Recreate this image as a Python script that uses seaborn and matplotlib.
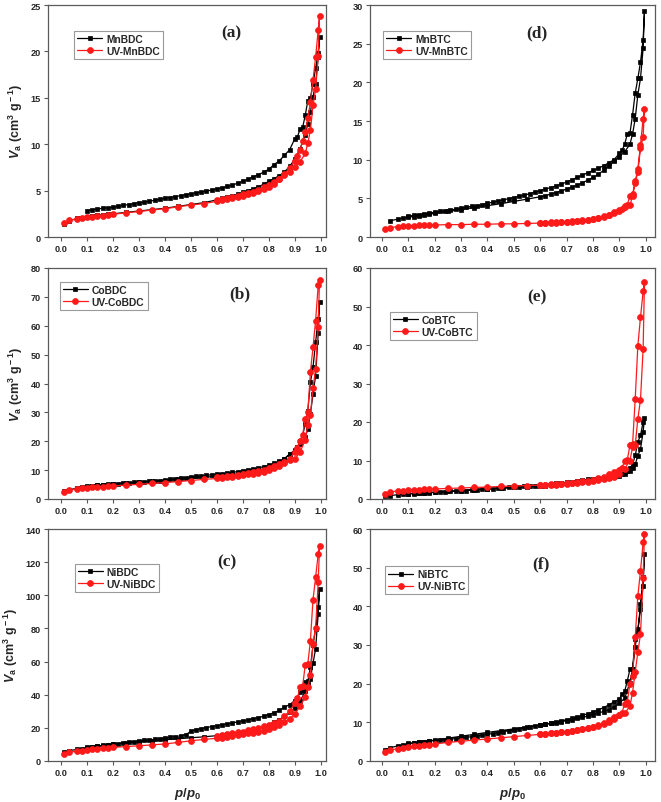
import matplotlib
matplotlib.use("Agg")
import matplotlib.pyplot as plt
import seaborn as sns

# relative pressure grids (adsorption up, desorption back down)
ads_p = [0.01, 0.03, 0.06, 0.08, 0.10, 0.12, 0.14, 0.16, 0.18, 0.20,
         0.25, 0.30, 0.35, 0.40, 0.45, 0.50, 0.55, 0.60,
         0.62, 0.64, 0.66, 0.68, 0.70, 0.72, 0.74, 0.76, 0.78, 0.80, 0.82, 0.84, 0.86, 0.88, 0.90,
         0.92, 0.94, 0.95, 0.96, 0.97, 0.98, 0.99, 0.995]
des_p_long = [0.99, 0.98, 0.97, 0.96, 0.95, 0.94, 0.93, 0.92, 0.91, 0.90,
              0.88, 0.86, 0.84, 0.82, 0.80, 0.78, 0.76, 0.74, 0.72, 0.70,
              0.68, 0.66, 0.64, 0.62, 0.60, 0.58, 0.56, 0.54, 0.52, 0.50,
              0.48, 0.46, 0.44, 0.42, 0.40, 0.38, 0.36, 0.34, 0.32, 0.30,
              0.28, 0.26, 0.24, 0.22, 0.20, 0.18, 0.16, 0.14, 0.12, 0.10]
des_p_short = [0.99, 0.98, 0.97, 0.96, 0.95, 0.94, 0.93, 0.92, 0.91, 0.90,
               0.88, 0.86, 0.84, 0.82, 0.80, 0.78, 0.76, 0.74, 0.72, 0.70,
               0.68, 0.66, 0.64, 0.62, 0.60]
mnbtc_p = [0.03, 0.06, 0.08, 0.10, 0.12, 0.14, 0.16, 0.18, 0.20,
           0.25, 0.30, 0.35, 0.40, 0.45, 0.50, 0.55, 0.60,
           0.62, 0.64, 0.66, 0.68, 0.70, 0.72, 0.74, 0.76, 0.78, 0.80, 0.82, 0.84, 0.86, 0.88, 0.90,
           0.92, 0.94, 0.95, 0.96, 0.97, 0.98, 0.99, 0.995]

# (a) MnBDC
mnbdc_ads = [1.35, 1.7, 2.0, 2.1, 2.2, 2.3, 2.35, 2.4, 2.45, 2.5,
             2.65, 2.8, 2.95, 3.1, 3.3, 3.5, 3.7, 4.0,
             4.15, 4.3, 4.45, 4.6, 4.8, 5.0, 5.2, 5.4, 5.7, 6.0, 6.3, 6.6, 7.0, 7.6, 8.4,
             9.5, 11.0, 12.2, 13.5, 15.1, 16.5, 19.4, 21.6]
mnbdc_des = [19.8, 18.2, 16.5, 15.0, 14.7, 13.1, 11.8, 11.6, 10.8, 10.6,
             9.4, 8.8, 8.2, 7.8, 7.3, 7.0, 6.7, 6.5, 6.2, 6.0,
             5.8, 5.6, 5.45, 5.3, 5.2, 5.05, 4.95, 4.85, 4.75, 4.65,
             4.55, 4.45, 4.35, 4.25, 4.15, 4.05, 3.95, 3.85, 3.75, 3.7,
             3.6, 3.5, 3.4, 3.3, 3.2, 3.15, 3.1, 3.0, 2.95, 2.85]
uv_mnbdc_ads = [1.5, 1.8, 1.95, 2.05, 2.15, 2.2, 2.25, 2.3, 2.4, 2.45,
                2.6, 2.75, 2.9, 3.05, 3.25, 3.45, 3.6, 3.85,
                3.95, 4.05, 4.2, 4.3, 4.45, 4.6, 4.75, 4.95, 5.15, 5.4, 5.75, 6.2, 6.7, 7.0, 7.5,
                8.1, 9.0, 10.1, 11.5, 14.2, 15.9, 19.5, 23.8]
uv_mnbdc_des = [22.3, 19.4, 16.9, 14.5, 12.8, 11.3, 10.3, 9.4, 8.7, 8.2,
                7.4, 6.8, 6.3, 5.9, 5.6, 5.35, 5.1, 4.9, 4.75, 4.6, 4.45, 4.3, 4.15, 4.05, 3.95]

# (b) CoBDC
cobdc_ads = [2.6, 3.2, 3.7, 4.0, 4.3, 4.5, 4.7, 4.9, 5.0, 5.2,
             5.5, 5.8, 6.1, 6.4, 6.8, 7.1, 7.5, 7.9,
             8.1, 8.3, 8.5, 8.7, 9.0, 9.3, 9.6, 10.0, 10.5, 11.0, 11.8, 12.7, 13.9, 15.5, 16.5,
             19.0, 21.5, 24.2, 29.4, 36.4, 42.7, 57.5, 68.2]
cobdc_des = [62.4, 54.3, 45.6, 40.4, 30.6, 26.0, 22.0, 20.2, 18.0, 17.0,
             15.5, 14.0, 13.0, 12.3, 11.7, 11.2, 10.8, 10.4, 10.1, 9.8,
             9.5, 9.2, 9.0, 8.8, 8.6, 8.4, 8.2, 8.0, 7.8, 7.6,
             7.4, 7.2, 7.0, 6.8, 6.6, 6.4, 6.3, 6.15, 6.0, 5.9,
             5.75, 5.6, 5.5, 5.35, 5.2, 5.1, 4.95, 4.8, 4.6, 4.4]
uv_cobdc_ads = [2.4, 3.0, 3.5, 3.7, 3.9, 4.0, 4.1, 4.3, 4.4, 4.5,
                4.8, 5.1, 5.4, 5.7, 6.0, 6.4, 6.8, 7.1,
                7.3, 7.5, 7.7, 7.9, 8.2, 8.5, 8.8, 9.1, 9.5, 10.0, 10.8, 11.6, 12.4, 13.5, 13.8,
                16.2, 20.4, 25.7, 29.0, 38.5, 45.0, 59.6, 75.8]
uv_cobdc_des = [74.0, 61.8, 52.5, 44.0, 30.0, 27.7, 22.0, 20.2, 17.5, 16.3,
                14.0, 12.8, 12.0, 11.3, 10.6, 10.1, 9.7, 9.3, 9.0, 8.7, 8.4, 8.1, 7.9, 7.7, 7.5]

# (c) NiBDC
nibdc_ads = [5.5, 6.2, 7.0, 7.5, 8.0, 8.4, 8.8, 9.2, 9.6, 10.0,
             10.9, 11.6, 12.2, 12.8, 13.4, 14.0, 14.6, 15.3,
             15.6, 16.0, 16.4, 16.9, 17.4, 18.0, 18.7, 19.5, 20.6, 22.0, 23.5, 25.0, 27.0, 29.5, 32.0,
             36.0, 42.0, 45.6, 49.6, 59.0, 67.7, 88.8, 103.8]
nibdc_des = [92.8, 79.7, 70.0, 56.6, 48.0, 47.6, 43.0, 41.4, 38.0, 36.5,
             34.0, 32.5, 30.5, 29.2, 28.0, 27.0, 26.2, 25.5, 24.8, 24.2,
             23.6, 23.0, 22.4, 21.8, 21.3, 20.8, 20.2, 19.6, 19.0, 18.0,
             15.8, 15.2, 14.7, 14.3, 13.9, 13.5, 13.1, 12.7, 12.4, 12.1,
             11.7, 11.3, 10.9, 10.5, 10.2, 9.8, 9.4, 9.0, 8.6, 8.2]
uv_nibdc_ads = [4.4, 5.3, 5.9, 6.3, 6.7, 7.0, 7.3, 7.6, 7.9, 8.2,
                8.7, 9.2, 9.7, 10.3, 11.2, 12.2, 13.0, 13.7,
                14.1, 14.6, 15.1, 15.6, 16.1, 16.6, 17.1, 17.6, 18.4, 19.3, 20.3, 21.5, 23.3, 25.5, 28.4,
                33.0, 38.5, 44.6, 51.6, 70.7, 80.5, 107.8, 129.5]
uv_nibdc_des = [125.0, 110.8, 97.4, 72.7, 58.6, 58.0, 45.0, 44.6, 38.0, 35.0,
                30.0, 27.0, 24.3, 23.0, 22.0, 21.0, 20.0, 19.2, 18.5, 17.8, 17.2, 16.6, 16.0, 15.5, 15.0]

# (d) MnBTC
mnbtc_ads = [2.1, 2.3, 2.45, 2.55, 2.65, 2.75, 2.85, 2.95, 3.05,
             3.3, 3.55, 3.8, 4.05, 4.3, 4.6, 4.9, 5.2,
             5.35, 5.55, 5.75, 5.95, 6.2, 6.45, 6.7, 7.0, 7.35, 7.7, 8.1, 8.6, 9.2, 9.8, 10.4,
             11.0, 12.0, 13.3, 15.3, 18.4, 20.5, 24.4, 29.2]
mnbtc_des = [25.5, 22.6, 20.5, 18.6, 15.8, 13.4, 13.3, 12.0, 11.2, 10.8,
             10.0, 9.6, 9.2, 8.9, 8.6, 8.3, 8.0, 7.7, 7.4, 7.1,
             6.85, 6.6, 6.4, 6.2, 6.0, 5.8, 5.6, 5.4, 5.25, 5.1,
             4.95, 4.8, 4.65, 4.5, 4.35, 4.2, 4.05, 3.95, 3.85, 3.75,
             3.6, 3.5, 3.4, 3.3, 3.2, 3.1, 3.0, 2.9, 2.8, 2.7]
uv_mnbtc_ads = [1.0, 1.2, 1.35, 1.4, 1.45, 1.45, 1.5, 1.5, 1.55, 1.55,
                1.6, 1.6, 1.65, 1.65, 1.7, 1.7, 1.75, 1.8,
                1.8, 1.85, 1.85, 1.9, 1.95, 2.0, 2.05, 2.1, 2.2, 2.35, 2.5, 2.7, 2.9, 3.2, 3.5,
                3.9, 4.1, 5.3, 7.0, 8.4, 11.5, 12.9, 16.6]
uv_mnbtc_des = [15.3, 11.9, 8.8, 7.2, 5.5, 5.3, 4.2, 4.0, 3.6, 3.4,
                3.1, 2.85, 2.65, 2.5, 2.35, 2.25, 2.15, 2.1, 2.05, 2.0, 1.95, 1.9, 1.9, 1.85, 1.85]

# (e) CoBTC
cobtc_ads = [0.7, 0.9, 1.1, 1.2, 1.3, 1.4, 1.5, 1.6, 1.7, 1.8,
             2.0, 2.2, 2.4, 2.6, 2.8, 3.0, 3.2, 3.4,
             3.5, 3.6, 3.7, 3.85, 4.0, 4.15, 4.3, 4.5, 4.7, 4.9, 5.1, 5.3, 5.5, 5.7, 6.0,
             6.5, 7.3, 8.0, 9.0, 11.2, 13.0, 17.4, 21.0]
cobtc_des = [20.0, 16.5, 14.8, 11.3, 9.0, 8.0, 7.3, 6.9, 6.6, 6.4,
             6.1, 5.9, 5.7, 5.5, 5.3, 5.1, 4.9, 4.7, 4.5, 4.35,
             4.2, 4.05, 3.9, 3.75, 3.6, 3.5, 3.4, 3.3, 3.2, 3.1,
             3.0, 2.9, 2.8, 2.7, 2.6, 2.5, 2.4, 2.3, 2.2, 2.1,
             2.0, 1.95, 1.9, 1.8, 1.7, 1.6, 1.55, 1.5, 1.45, 1.4]
uv_cobtc_ads = [1.3, 1.8, 2.1, 2.2, 2.3, 2.4, 2.45, 2.5, 2.55, 2.6,
                2.75, 2.85, 3.0, 3.1, 3.25, 3.35, 3.5, 3.6,
                3.65, 3.7, 3.75, 3.85, 3.95, 4.05, 4.2, 4.35, 4.5, 4.7, 5.0, 5.3, 5.5, 5.6, 6.6,
                7.8, 10.0, 13.4, 14.0, 20.8, 25.8, 39.0, 56.3]
uv_cobtc_des = [53.9, 47.2, 39.8, 26.0, 14.2, 13.9, 10.2, 10.0, 8.0, 7.5,
                6.9, 6.4, 5.8, 5.4, 5.0, 4.75, 4.55, 4.4, 4.25, 4.1, 4.0, 3.9, 3.8, 3.75, 3.7]

# (f) NiBTC
nibtc_ads = [2.9, 3.4, 3.9, 4.2, 4.4, 4.6, 4.8, 5.0, 5.2, 5.4,
             5.9, 6.4, 6.9, 7.4, 7.85, 8.3, 8.8, 9.3,
             9.5, 9.7, 9.95, 10.2, 10.4, 10.7, 11.0, 11.3, 11.6, 12.0, 12.4, 12.8, 13.3, 14.0, 15.0,
             16.2, 20.3, 23.7, 29.5, 34.1, 39.3, 45.3, 53.6]
nibtc_des = [47.5, 40.6, 33.2, 31.5, 23.9, 23.7, 20.7, 18.0, 17.3, 16.0,
             15.3, 14.5, 13.8, 13.2, 12.7, 12.2, 11.8, 11.4, 11.0, 10.7,
             10.4, 10.1, 9.8, 9.5, 9.3, 9.05, 8.8, 8.55, 8.3, 8.05,
             7.8, 7.6, 7.35, 7.1, 6.9, 6.7, 6.5, 6.3, 6.1, 5.95,
             5.8, 5.65, 5.5, 5.4, 5.3, 5.15, 5.0, 4.85, 4.7, 4.55]
uv_nibtc_ads = [2.3, 2.8, 3.2, 3.4, 3.6, 3.8, 3.95, 4.1, 4.25, 4.4,
                4.8, 5.1, 5.4, 5.7, 6.0, 6.3, 6.6, 6.9,
                7.0, 7.15, 7.3, 7.45, 7.6, 7.8, 8.0, 8.25, 8.5, 8.8, 9.2, 9.8, 10.5, 11.5, 12.0,
                12.3, 14.2, 17.7, 23.1, 28.1, 32.8, 47.2, 58.8]
uv_nibtc_des = [56.6, 49.1, 42.7, 32.0, 22.0, 20.0, 15.3, 14.8, 12.5, 11.8,
                10.8, 10.0, 9.5, 9.1, 8.8, 8.5, 8.25, 8.0, 7.8, 7.6, 7.45, 7.3, 7.15, 7.0, 6.9]

sns.set_style("ticks")
plt.rcParams['font.family'] = ['Liberation Sans', 'DejaVu Sans']
plt.rcParams['mathtext.fontset'] = 'custom'
plt.rcParams['mathtext.rm'] = 'Liberation Sans:bold'
plt.rcParams['mathtext.bf'] = 'Liberation Sans:bold'
plt.rcParams['mathtext.it'] = 'Liberation Sans:italic:bold'

W, H = 661, 803
fig = plt.figure(figsize=(W / 100, H / 100), dpi=100)


def make_ax(l, r, t, b):
    return fig.add_axes([l / W, 1 - b / H, (r - l) / W, (b - t) / H])


def isotherm(ax, p1, v1, p2, v2, color, marker, ms, label):
    p = list(p1) + list(p2)
    v = list(v1) + list(v2)
    sns.lineplot(x=p, y=v, ax=ax, sort=False, estimator=None, color=color,
                 marker=marker, markersize=ms, markeredgecolor=color,
                 markeredgewidth=0.5, linewidth=0.9, label=label)


panels = [
    dict(box=(48, 326, 6, 238), xl=(-0.05, 1.02),
         black=(ads_p, mnbdc_ads, des_p_long, mnbdc_des, 'MnBDC'),
         red=(ads_p, uv_mnbdc_ads, des_p_short, uv_mnbdc_des, 'UV-MnBDC'),
         ymax=25, ystep=5, tag='(a)', tagpos=(0.66, 0.88), leg=(0.094, 0.89)),
    dict(box=(48, 326, 269, 500), xl=(-0.05, 1.02),
         black=(ads_p, cobdc_ads, des_p_long, cobdc_des, 'CoBDC'),
         red=(ads_p, uv_cobdc_ads, des_p_short, uv_cobdc_des, 'UV-CoBDC'),
         ymax=80, ystep=10, tag='(b)', tagpos=(0.69, 0.89), leg=(0.043, 0.94)),
    dict(box=(48, 326, 530, 762), xl=(-0.05, 1.02),
         black=(ads_p, nibdc_ads, des_p_long, nibdc_des, 'NiBDC'),
         red=(ads_p, uv_nibdc_ads, des_p_short, uv_nibdc_des, 'UV-NiBDC'),
         ymax=140, ystep=20, tag='(c)', tagpos=(0.645, 0.86), leg=(0.097, 0.85)),
    dict(box=(370, 655, 6, 238), xl=(-0.045, 1.035),
         black=(mnbtc_p, mnbtc_ads, des_p_long, mnbtc_des, 'MnBTC'),
         red=(ads_p, uv_mnbtc_ads, des_p_short, uv_mnbtc_des, 'UV-MnBTC'),
         ymax=30, ystep=5, tag='(d)', tagpos=(0.585, 0.88), leg=(0.046, 0.89)),
    dict(box=(370, 655, 269, 500), xl=(-0.045, 1.035),
         black=(ads_p, cobtc_ads, des_p_long, cobtc_des, 'CoBTC'),
         red=(ads_p, uv_cobtc_ads, des_p_short, uv_cobtc_des, 'UV-CoBTC'),
         ymax=60, ystep=10, tag='(e)', tagpos=(0.585, 0.875), leg=(0.07, 0.81)),
    dict(box=(370, 655, 530, 762), xl=(-0.045, 1.035),
         black=(ads_p, nibtc_ads, des_p_long, nibtc_des, 'NiBTC'),
         red=(ads_p, uv_nibtc_ads, des_p_short, uv_nibtc_des, 'UV-NiBTC'),
         ymax=60, ystep=10, tag='(f)', tagpos=(0.6, 0.85), leg=(0.053, 0.84)),
]

spine_col = '#5a5a5a'
xt = [i / 10 for i in range(11)]

for i, pn in enumerate(panels):
    ax = make_ax(*pn['box'])
    b = pn['black']
    r = pn['red']
    isotherm(ax, b[0], b[1], b[2], b[3], 'black', 's', 3.5, b[4])
    isotherm(ax, r[0], r[1], r[2], r[3], '#ff1a1a', 'o', 4.3, r[4])
    ax.set_xlim(*pn['xl'])
    ax.set_ylim(0, pn['ymax'])
    ax.set_xticks(xt)
    ax.set_xticklabels([f'{v:.1f}' for v in xt])
    ax.set_yticks(list(range(0, pn['ymax'] + 1, pn['ystep'])))
    ax.tick_params(direction='out', length=3, width=0.8, color=spine_col,
                   labelsize=6.6, pad=2)
    for lab in ax.get_xticklabels() + ax.get_yticklabels():
        lab.set_fontweight('bold')
    for s in ax.spines.values():
        s.set_visible(True)
        s.set_color(spine_col)
        s.set_linewidth(0.9)
    ax.set_xlabel('')
    ax.set_ylabel('')
    if i < 3:
        ax.set_ylabel(r'$V_{\rm a}$ (cm$^{\rm 3}$ g$^{\rm -1}$)', fontsize=9,
                      fontweight='bold', labelpad=4)
    if i in (2, 5):
        ax.set_xlabel(r'$p/p_{\rm 0}$', fontsize=9.5, labelpad=6)
    ax.text(pn['tagpos'][0], pn['tagpos'][1], pn['tag'], transform=ax.transAxes,
            ha='center', va='center', fontsize=12.5, fontweight='bold',
            family='Liberation Serif')
    leg = ax.legend(loc='upper left', bbox_to_anchor=pn['leg'], frameon=True,
                    fancybox=False, framealpha=1, edgecolor='#9a9a9a',
                    prop={'weight': 'bold', 'size': 7.4}, handlelength=2.4,
                    handletextpad=0.4, labelspacing=0.2, borderpad=0.3,
                    borderaxespad=0)
    leg.get_frame().set_linewidth(0.8)

fig.savefig('out.png', dpi=100)
